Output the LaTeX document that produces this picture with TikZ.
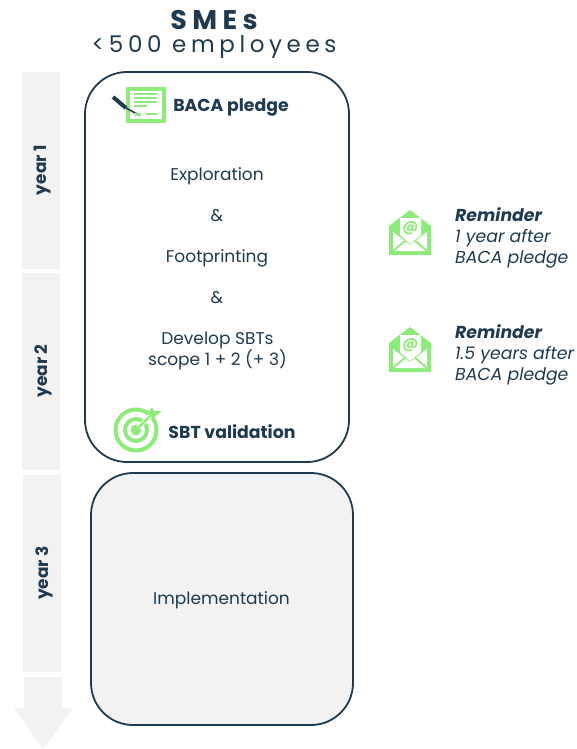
\documentclass[tikz,border=0pt]{standalone}
\usepackage{fontspec}
\setmainfont{Poppins}
\definecolor{navy}{HTML}{1F3A4F}
\definecolor{leaf}{HTML}{8FEA7C}
\definecolor{pale}{HTML}{F2F2F2}
\tikzset{
  yearbar/.style={shape=rectangle,fill=pale,minimum width=38pt,inner sep=0pt},
  yearlabel/.style={rotate=90,text=navy,font=\fontsize{17}{18}\selectfont\bfseries},
  stagebox/.style={shape=rectangle,draw=navy,line width=1.8pt,rounded corners=42pt,inner sep=0pt},
  bodytext/.style={text=navy,align=center,font=\fontsize{17}{20.5}\selectfont},
  marktext/.style={text=navy,font=\fontsize{17.3}{20}\selectfont\bfseries},
  remindtext/.style={text=navy,align=left,anchor=north west,inner sep=0pt,font=\fontsize{17.3}{21}\selectfont\itshape},
  envelope/.pic={
    \fill[leaf] (-21,-7) -- (0,-23) -- (21,-7) -- (21,22) -- (-21,22) -- cycle;
    \fill[white] (-17,-1) -- (0,12) -- (17,-1) -- (17,18) -- (-17,18) -- cycle;
    \draw[leaf,line width=1.8pt] (-17,18) -- (-3,6) (17,18) -- (3,6);
    \fill[white] (-10,-15) -- (11,-15) -- (11,2) -- (0,11) -- (-10,2) -- cycle;
    \node at (0.5,-5) [text=leaf,inner sep=0pt,font=\fontsize{15}{15}\selectfont\bfseries] {@};
  }
}
\begin{document}
\begin{tikzpicture}[x=1pt,y=-1pt]
\useasboundingbox (0,0) rectangle (576,749);
% titles
\node (sme) at (214,20) [text=navy,font=\fontsize{27}{30}\selectfont\bfseries\addfontfeatures{LetterSpace=20}] {SMEs};
\node (size) at (214,47) [text=navy,font=\fontsize{23}{26}\selectfont\addfontfeatures{LetterSpace=20}] {<500 employees};
% time bars
\node (bar1) at (41,170.5) [yearbar,minimum height=197pt] {};
\node (bar2) at (41,371.5) [yearbar,minimum height=197pt] {};
\node (bar3) at (42,573.5) [yearbar,minimum height=197pt] {};
\fill[pale] (24,677) -- (62,677) -- (62,708) -- (73,708) -- (43,749) -- (14,708) -- (24,708) -- cycle;
\node (y1) at (43,170) [yearlabel] {year 1};
\node (y2) at (43,371) [yearlabel] {year 2};
\node (y3) at (44,573) [yearlabel] {year 3};
% stages
\node (box1) at (217,267) [stagebox,minimum width=264pt,minimum height=390pt] {};
\node (box2) at (222,599) [stagebox,fill=pale,minimum width=262pt,minimum height=252pt] {};
\node (expl) at (217,176) [bodytext] {Exploration};
\node (and1) at (217,216) [bodytext] {\&};
\node (foot) at (217,258) [bodytext] {Footprinting};
\node (and2) at (217,298) [bodytext] {\&};
\node (dev) at (217.5,351) [bodytext] {Develop SBTs\\scope 1 + 2 (+ 3)};
\node (impl) at (221.5,600) [bodytext] {Implementation};
\node (pledge) at (231,107) [marktext] {BACA pledge};
\node (valid) at (232,432) [marktext] {SBT validation};
% pledge icon
\draw[leaf,line width=3.5pt,fill=white] (128,89) rectangle (164,121);
\draw[leaf,line width=1.3pt] (134,94) -- (157,94) (134,98) -- (157,98) (134,102) -- (157,102) (134,106) -- (147,106) (146,114) -- (157,114);
\draw[navy,line width=4pt] (113,97) -- (126,108);
\draw[navy,line width=1.6pt] (126,108) -- (139,115);
\draw[leaf,line width=1.2pt] (135,113) -- (141,116) (135,116) -- (141,113);
% target icon
\draw[leaf,line width=4pt] (136,430) circle (20.5pt);
\draw[leaf,line width=4pt] (136,430) circle (11pt);
\fill[leaf] (136,430) circle (5.5pt);
\draw[white,line width=4pt] (138,428) -- (151,415);
\draw[leaf,line width=2.2pt] (136,430) -- (152,414);
\fill[leaf] (148,413) -- (152,407) -- (154,411) -- (162,411) -- (153,418) -- cycle;
% reminders
\pic at (410,233) {envelope};
\pic at (410,350) {envelope};
\node (rem1) at (455,207) [remindtext] {\textbf{Reminder}\\1 year after\\BACA pledge};
\node (rem2) at (455,324) [remindtext] {\textbf{Reminder}\\1.5 years after\\BACA pledge};
\end{tikzpicture}
\end{document}
